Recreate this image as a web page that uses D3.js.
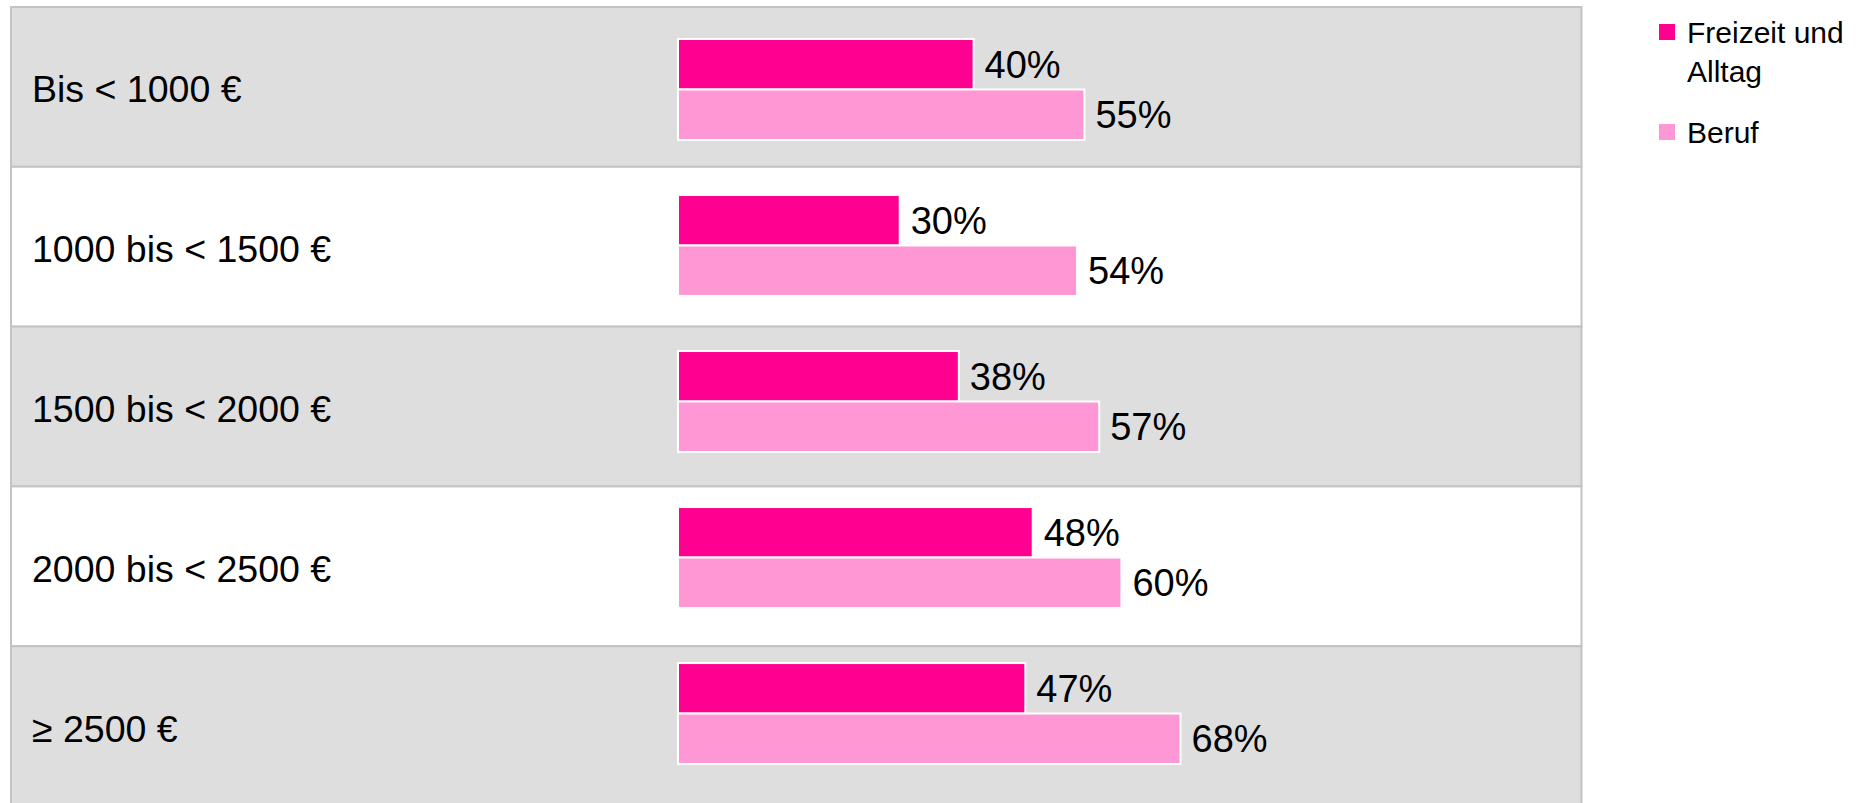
<!DOCTYPE html>
<html>
<head>
<meta charset="utf-8">
<script src="https://cdn.jsdelivr.net/npm/d3@7"></script>
<style>
  html, body { margin: 0; padding: 0; background: #ffffff; }
  svg { display: block; font-family: "Liberation Sans", Arial, sans-serif; }
</style>
</head>
<body>
<div id="chart"></div>
<script>
// Einkommensgruppen und Anteile
const categories = ["Bis < 1000 €", "1000 bis < 1500 €", "1500 bis < 2000 €", "2000 bis < 2500 €", "≥ 2500 €"];
const seriesNames = ["Freizeit und Alltag", "Beruf"];
const freizeitValues = [40, 30, 38, 48, 47];
const berufValues = [55, 54, 57, 60, 68];
const seriesColors = ["#ff0090", "#ff97d4"];

const W = 1868, H = 803;

const rows = categories.map((c, i) => ({
  cat: c,
  values: [
    { key: seriesNames[0], value: freizeitValues[i] },
    { key: seriesNames[1], value: berufValues[i] }
  ]
}));

const svg = d3.select("#chart").append("svg")
  .attr("width", W)
  .attr("height", H);

// table-like row backgrounds
const rowScale = d3.scaleBand()
  .domain(categories)
  .range([7, 806]);

svg.append("g").selectAll("rect")
  .data(categories)
  .enter().append("rect")
  .attr("x", 11)
  .attr("y", d => rowScale(d))
  .attr("width", 1570.5)
  .attr("height", rowScale.bandwidth())
  .attr("fill", (d, i) => i % 2 === 0 ? "#dedede" : "#ffffff")
  .attr("stroke", "#c3c3c3")
  .attr("stroke-width", 2);

// category labels
svg.append("g").selectAll("text")
  .data(categories)
  .enter().append("text")
  .attr("x", 32)
  .attr("y", d => rowScale(d) + rowScale.bandwidth() / 2 + 2)
  .attr("dy", "0.36em")
  .style("font-size", "37.5px")
  .style("fill", "#000")
  .text(d => d);

// bars
const x = d3.scaleLinear()
  .domain([0, 100])
  .range([678, 1417]);

const y0 = d3.scaleBand()
  .domain(categories)
  .range([39, 764])
  .paddingInner(0.353)
  .paddingOuter(0);

const y1 = d3.scaleBand()
  .domain(seriesNames)
  .range([0, y0.bandwidth()]);

const color = d3.scaleOrdinal()
  .domain(seriesNames)
  .range(seriesColors);

const groups = svg.append("g").selectAll("g")
  .data(rows)
  .enter().append("g")
  .attr("transform", d => `translate(0,${y0(d.cat)})`);

groups.selectAll("rect")
  .data(d => d.values)
  .enter().append("rect")
  .attr("x", x(0))
  .attr("y", d => y1(d.key))
  .attr("width", d => x(d.value) - x(0))
  .attr("height", y1.bandwidth())
  .attr("fill", d => color(d.key))
  .attr("stroke", "#ffffff")
  .attr("stroke-width", 2);

groups.selectAll("text")
  .data(d => d.values)
  .enter().append("text")
  .attr("x", d => x(d.value) + 11)
  .attr("y", d => y1(d.key) + y1.bandwidth() / 2)
  .attr("dy", "0.36em")
  .style("font-size", "38px")
  .style("fill", "#000")
  .text(d => d.value + "%");

// legend
const legend = svg.append("g");
const legendTop = [24, 124];

seriesNames.forEach((name, i) => {
  legend.append("rect")
    .attr("x", 1659)
    .attr("y", legendTop[i])
    .attr("width", 16)
    .attr("height", 16)
    .attr("fill", color(name));

  const t = legend.append("text")
    .attr("x", 1687)
    .attr("y", legendTop[i] + 19)
    .style("font-size", "30px")
    .style("fill", "#000");

  // wrap words to the space right of the square
  const words = name.split(" ");
  let line = [];
  let lineNo = 0;
  let tspan = t.append("tspan").attr("x", 1687).attr("dy", 0);
  words.forEach(w => {
    line.push(w);
    tspan.text(line.join(" "));
    if (tspan.node().getComputedTextLength() > 172 && line.length > 1) {
      line.pop();
      tspan.text(line.join(" "));
      line = [w];
      lineNo++;
      tspan = t.append("tspan").attr("x", 1687).attr("dy", 39).text(w);
    }
  });
});
</script>
</body>
</html>
